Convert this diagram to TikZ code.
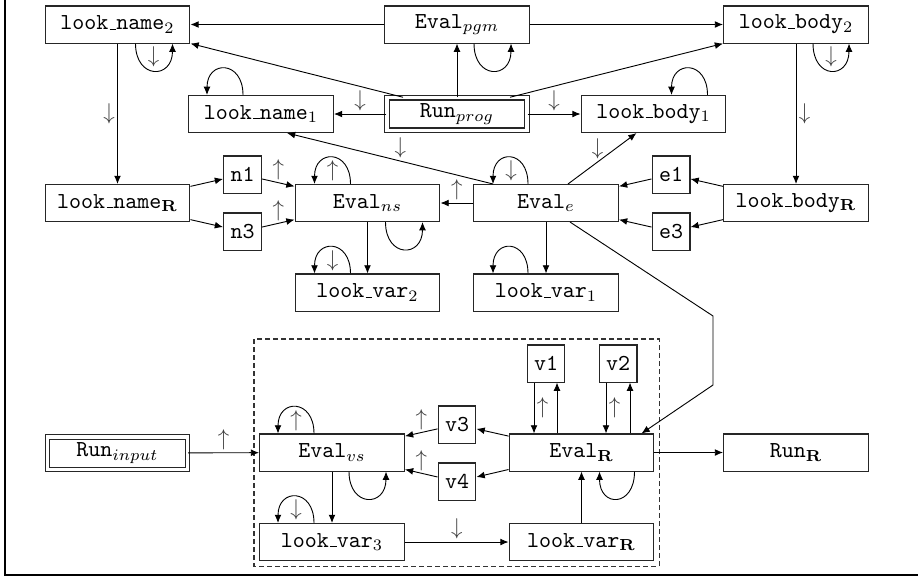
\documentclass[tikz,border=0pt]{standalone}
\usetikzlibrary{arrows.meta,calc}
\newcommand\usc{\leavevmode\kern.06em\vbox{\hrule width.3em}}
\begin{document}
\begin{tikzpicture}[x=0.4375pt,y=-0.4375pt,
  box/.style={draw, line width=0.45pt, draw=black!85, minimum width=63.4pt, minimum height=16.2pt, inner sep=0pt, font=\ttfamily},
  sbox/.style={box, minimum width=16.6pt},
  dbox/.style={box, double, double distance=1.5pt, minimum width=61.4pt, minimum height=14.2pt},
  arr/.style={-{Latex[length=3.6pt,width=3pt]}, line width=0.4pt},
  lab/.style={inner sep=1pt, text=black!75},
  dashbox/.style={draw, line width=0.45pt, draw=black!80, dash pattern=on 2pt off 1.5pt}]
\useasboundingbox (0,0) rectangle (918,581);
\draw[line width=0.6pt] (5,0) -- (5,575) -- (918,575);

% nodes
\node[box] (ln2) at (117.5,24.5) {look\usc name$_2$};
\node[box] (epgm) at (457,24.5) {Eval$_{pgm}$};
\node[box] (lb2) at (796,24.5) {look\usc body$_2$};
\node[box] (ln1) at (261,114) {look\usc name$_1$};
\node[dbox] (rprog) at (457,114) {Run$_{prog}$};
\node[box] (lb1) at (653.5,114) {look\usc body$_1$};
\node[box] (lnR) at (117.5,203) {look\usc name$_{\mathbf{R}}$};
\node[sbox] (n1) at (242.5,174.5) {n1};
\node[sbox] (n3) at (242.5,231.5) {n3};
\node[box] (ens) at (367.5,203) {Eval$_{ns}$};
\node[box] (ee) at (546,203) {Eval$_e$};
\node[sbox] (e1) at (671,174.5) {e1};
\node[sbox] (e3) at (671,231.5) {e3};
\node[box] (lbR) at (796,203) {look\usc body$_{\mathbf{R}}$};
\node[box] (lv2) at (367.5,292.5) {look\usc var$_2$};
\node[box] (lv1) at (546,292.5) {look\usc var$_1$};

\draw[dashbox] (254,339) rectangle (659,566);
\node[dbox] (rin) at (117.5,453) {Run$_{input}$};
\node[box] (evs) at (332,452.5) {Eval$_{vs}$};
\node[box] (lv3) at (332,542) {look\usc var$_3$};
\node[sbox] (v3) at (457,424.5) {v3};
\node[sbox] (v4) at (457,481.5) {v4};
\node[box] (eR) at (581.5,452.5) {Eval$_{\mathbf{R}}$};
\node[box] (lvR) at (581.5,542) {look\usc var$_{\mathbf{R}}$};
\node[sbox] (v1) at (546,363.5) {v1};
\node[sbox] (v2) at (618,363.5) {v2};
\node[box] (rR) at (796,452.5) {Run$_{\mathbf{R}}$};

% top connectors
\draw[arr] (epgm) -- (ln2);
\draw[arr] (epgm) -- (lb2);
\draw[arr] (rprog) -- (epgm);
\draw[arr] ($(rprog.north)+(-54,0)$) -- (ln2.south east);
\draw[arr] ($(rprog.north)+(53,0)$) -- (lb2.south west);
\draw[arr] (rprog) -- node[lab,above]{$\downarrow$} (ln1);
\draw[arr] (rprog) -- node[lab,above]{$\downarrow$} (lb1);
\draw[arr] (ln2) -- node[lab,left]{$\downarrow$} (lnR);
\draw[arr] (lb2) -- node[lab,right]{$\downarrow$} (lbR);
\draw[arr] ($(ee.north)+(-53,0)$) -- node[lab,above,pos=0.45]{$\downarrow$} ($(ln1.south)+(26,0)$);
\draw[arr] ($(ee.north)+(22,0)$) -- node[lab,above,pos=0.43]{$\downarrow$} ($(lb1.south)+(-17,0)$);

% middle connectors
\draw[arr] (ee) -- node[lab,above]{$\uparrow$} (ens);
\draw[arr] (ens) -- (lv2);
\draw[arr] (ee) -- (lv1);
\draw[arr] (lnR) -- (n1);
\draw[arr] (lnR) -- (n3);
\draw[arr] (n1) -- node[lab,above]{$\uparrow$} (ens);
\draw[arr] (n3) -- node[lab,above]{$\uparrow$} (ens);
\draw[arr] (lbR) -- (e1);
\draw[arr] (lbR) -- (e3);
\draw[arr] (e1) -- (ee);
\draw[arr] (e3) -- (ee);
\coordinate (b1) at (713,316);
\coordinate (b2) at (713,385);
\draw[arr] ($(ee.south)+(24,0)$) -- (b1) -- (b2) -- ($(eR.north)+(60,0)$);

% bottom connectors
\draw[arr] (rin) -- node[lab,above]{$\uparrow$} (evs);
\draw[arr] (evs) -- (lv3);
\draw[arr] (lv3) -- node[lab,above]{$\downarrow$} (lvR);
\draw[arr] (lvR) -- (eR);
\draw[arr] (eR) -- (v3);
\draw[arr] (eR) -- (v4);
\draw[arr] (v3) -- node[lab,above]{$\uparrow$} (evs);
\draw[arr] (v4) -- node[lab,above]{$\uparrow$} (evs);
\coordinate (v1a) at ($(v1.south)+(-12,0)$);
\coordinate (v1b) at ($(v1.south)+(11,0)$);
\coordinate (v2a) at ($(v2.south)+(-12,0)$);
\coordinate (v2b) at ($(v2.south)+(12,0)$);
\draw[arr] (v1a) -- node[lab,right]{$\uparrow$} (v1a |- eR.north);
\draw[arr] (v1b |- eR.north) -- (v1b);
\draw[arr] (v2a) -- node[lab,right]{$\uparrow$} (v2a |- eR.north);
\draw[arr] (v2b |- eR.north) -- (v2b);
\draw[arr] (eR) -- (rR);

% loops below boxes
\draw[arr] ($(epgm.south)+(17,0)$) .. controls +(0,36) and +(0,36) .. ($(epgm.south)+(54,0)$);
\draw[arr] ($(ln2.south)+(18,0)$) .. controls +(0,36) and +(0,36) .. ($(ln2.south)+(55,0)$);
\node[lab] at ($(ln2.south)+(36,13)$) {$\downarrow$};
\draw[arr] ($(lb2.south)+(17,0)$) .. controls +(0,36) and +(0,36) .. ($(lb2.south)+(53,0)$);
\node[lab] at ($(lb2.south)+(35,13)$) {$\downarrow$};
\draw[arr] ($(ens.south)+(18,0)$) .. controls +(0,36) and +(0,36) .. ($(ens.south)+(55,0)$);
\draw[arr] ($(evs.south)+(17,0)$) .. controls +(0,36) and +(0,36) .. ($(evs.south)+(54,0)$);
\draw[arr] ($(eR.south)+(53,0)$) .. controls +(0,36) and +(0,36) .. ($(eR.south)+(18,0)$);

% loops above boxes
\draw[arr] ($(ln1.north)+(-18,0)$) .. controls +(0,-35) and +(0,-35) .. ($(ln1.north)+(-54,0)$);
\draw[arr] ($(lb1.north)+(54,0)$) .. controls +(0,-35) and +(0,-35) .. ($(lb1.north)+(18,0)$);
\draw[arr] ($(ens.north)+(-17,0)$) .. controls +(0,-35) and +(0,-35) .. ($(ens.north)+(-53,0)$);
\node[lab] at ($(ens.north)+(-35,-13)$) {$\uparrow$};
\draw[arr] ($(ee.north)+(-18,0)$) .. controls +(0,-35) and +(0,-35) .. ($(ee.north)+(-53,0)$);
\node[lab] at ($(ee.north)+(-35,-13)$) {$\downarrow$};
\draw[arr] ($(lv2.north)+(-17,0)$) .. controls +(0,-35) and +(0,-35) .. ($(lv2.north)+(-53,0)$);
\node[lab] at ($(lv2.north)+(-35,-13)$) {$\downarrow$};
\draw[arr] ($(lv1.north)+(-18,0)$) .. controls +(0,-35) and +(0,-35) .. ($(lv1.north)+(-53,0)$);
\draw[arr] ($(evs.north)+(-18,0)$) .. controls +(0,-35) and +(0,-35) .. ($(evs.north)+(-54,0)$);
\node[lab] at ($(evs.north)+(-36,-13)$) {$\uparrow$};
\draw[arr] ($(lv3.north)+(-18,0)$) .. controls +(0,-35) and +(0,-35) .. ($(lv3.north)+(-54,0)$);
\node[lab] at ($(lv3.north)+(-36,-13)$) {$\downarrow$};
\end{tikzpicture}
\end{document}
